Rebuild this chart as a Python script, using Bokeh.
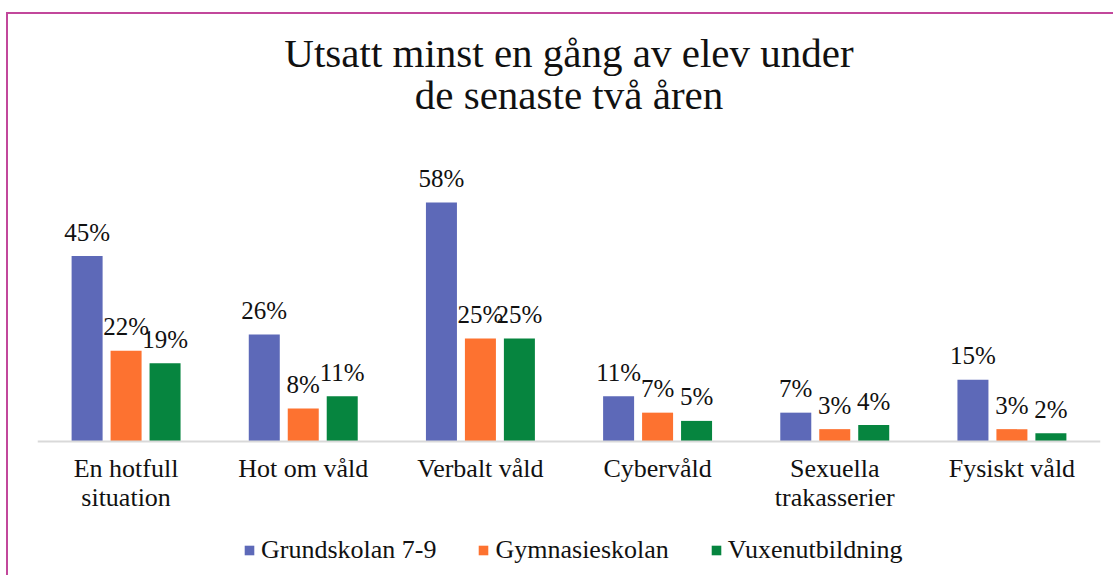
from bokeh.plotting import figure
from bokeh.models import ColumnDataSource, Label, Legend, LegendItem, FactorRange, Range1d, Span
from bokeh.transform import dodge
from bokeh.embed import file_html
from bokeh.resources import INLINE

# ---- data ----
categories = ["En hotfull situation", "Hot om våld", "Verbalt våld",
              "Cybervåld", "Sexuella trakasserier", "Fysiskt våld"]
tick_labels = ["En hotfull\nsituation", "Hot om våld", "Verbalt våld",
               "Cybervåld", "Sexuella\ntrakasserier", "Fysiskt våld"]
series_names = ["Grundskolan 7-9", "Gymnasieskolan", "Vuxenutbildning"]
grundskolan = [45, 26, 58, 11, 7, 15]
gymnasieskolan = [22, 8, 25, 7, 3, 3]
vuxenutbildning = [19, 11, 25, 5, 4, 2]
title_lines = ["Utsatt minst en gång av elev under", "de senaste två åren"]

colors = ["#5D69B8", "#FD7230", "#06853F"]
FONT = "Liberation Serif"
PX_PER_UNIT = 4.12
W, H = 1107, 563
BASE = 427  # baseline, canvas px from top

src = ColumnDataSource(data=dict(
    cat=categories, tick=tick_labels,
    g=grundskolan, gy=gymnasieskolan, v=vuxenutbildning,
    gl=[f"{x}%" for x in grundskolan],
    gyl=[f"{x}%" for x in gymnasieskolan],
    vl=[f"{x}%" for x in vuxenutbildning],
    zero=[0] * len(categories),
))

p = figure(width=W, height=H, x_range=FactorRange(*categories),
           y_range=Range1d(-(H - BASE) / PX_PER_UNIT, BASE / PX_PER_UNIT),
           output_backend="svg", toolbar_location=None,
           x_axis_location=None, y_axis_location=None,
           min_border_left=29, min_border_right=15, min_border_top=0, min_border_bottom=0)
p.styles = {"border-left": "2px solid #C2479B", "border-top": "2px solid #C2479B",
            "margin-top": "12px", "margin-left": "6px"}
p.outline_line_color = None
p.grid.visible = False

# baseline (category axis line)
p.add_layout(Span(location=0, dimension="width", line_color="#D9D9D9", line_width=2))

cols = ["g", "gy", "v"]
labs = ["gl", "gyl", "vl"]
offsets = [-0.22, 0.0, 0.22]
items = []
for c, l, off, col, name in zip(cols, labs, offsets, colors, series_names):
    r = p.vbar(x=dodge("cat", off, range=p.x_range), top=c, width=0.175, bottom=0,
               source=src, fill_color=col, line_color=None)
    p.text(x=dodge("cat", off, range=p.x_range), y=c, text=l, source=src,
           text_align="center", text_baseline="alphabetic", y_offset=-24,
           text_font=FONT, text_font_size="25px", text_color="#111111")
    items.append(LegendItem(label=name, renderers=[r]))

# category labels
p.text(x="cat", y="zero", text="tick", source=src, text_align="center",
       text_baseline="top", y_offset=12, text_font=FONT, text_font_size="26px",
       text_color="#111111", text_line_height=1.02)

for txt, yy in zip(title_lines, [94.4, 84.0]):
    p.add_layout(Label(x=3, y=yy, text=txt, text_align="center", text_baseline="alphabetic",
                       text_font=FONT, text_font_size="41px", text_color="#111111"))

legend = Legend(items=items, orientation="horizontal", location=(206, 12),
                glyph_width=12, glyph_height=12, label_standoff=6, spacing=41,
                label_text_font=FONT, label_text_font_size="26px", label_text_color="#111111",
                border_line_color=None, background_fill_alpha=0, padding=0, margin=0)
p.add_layout(legend)

open("out.html", "w").write(file_html(p, INLINE))
